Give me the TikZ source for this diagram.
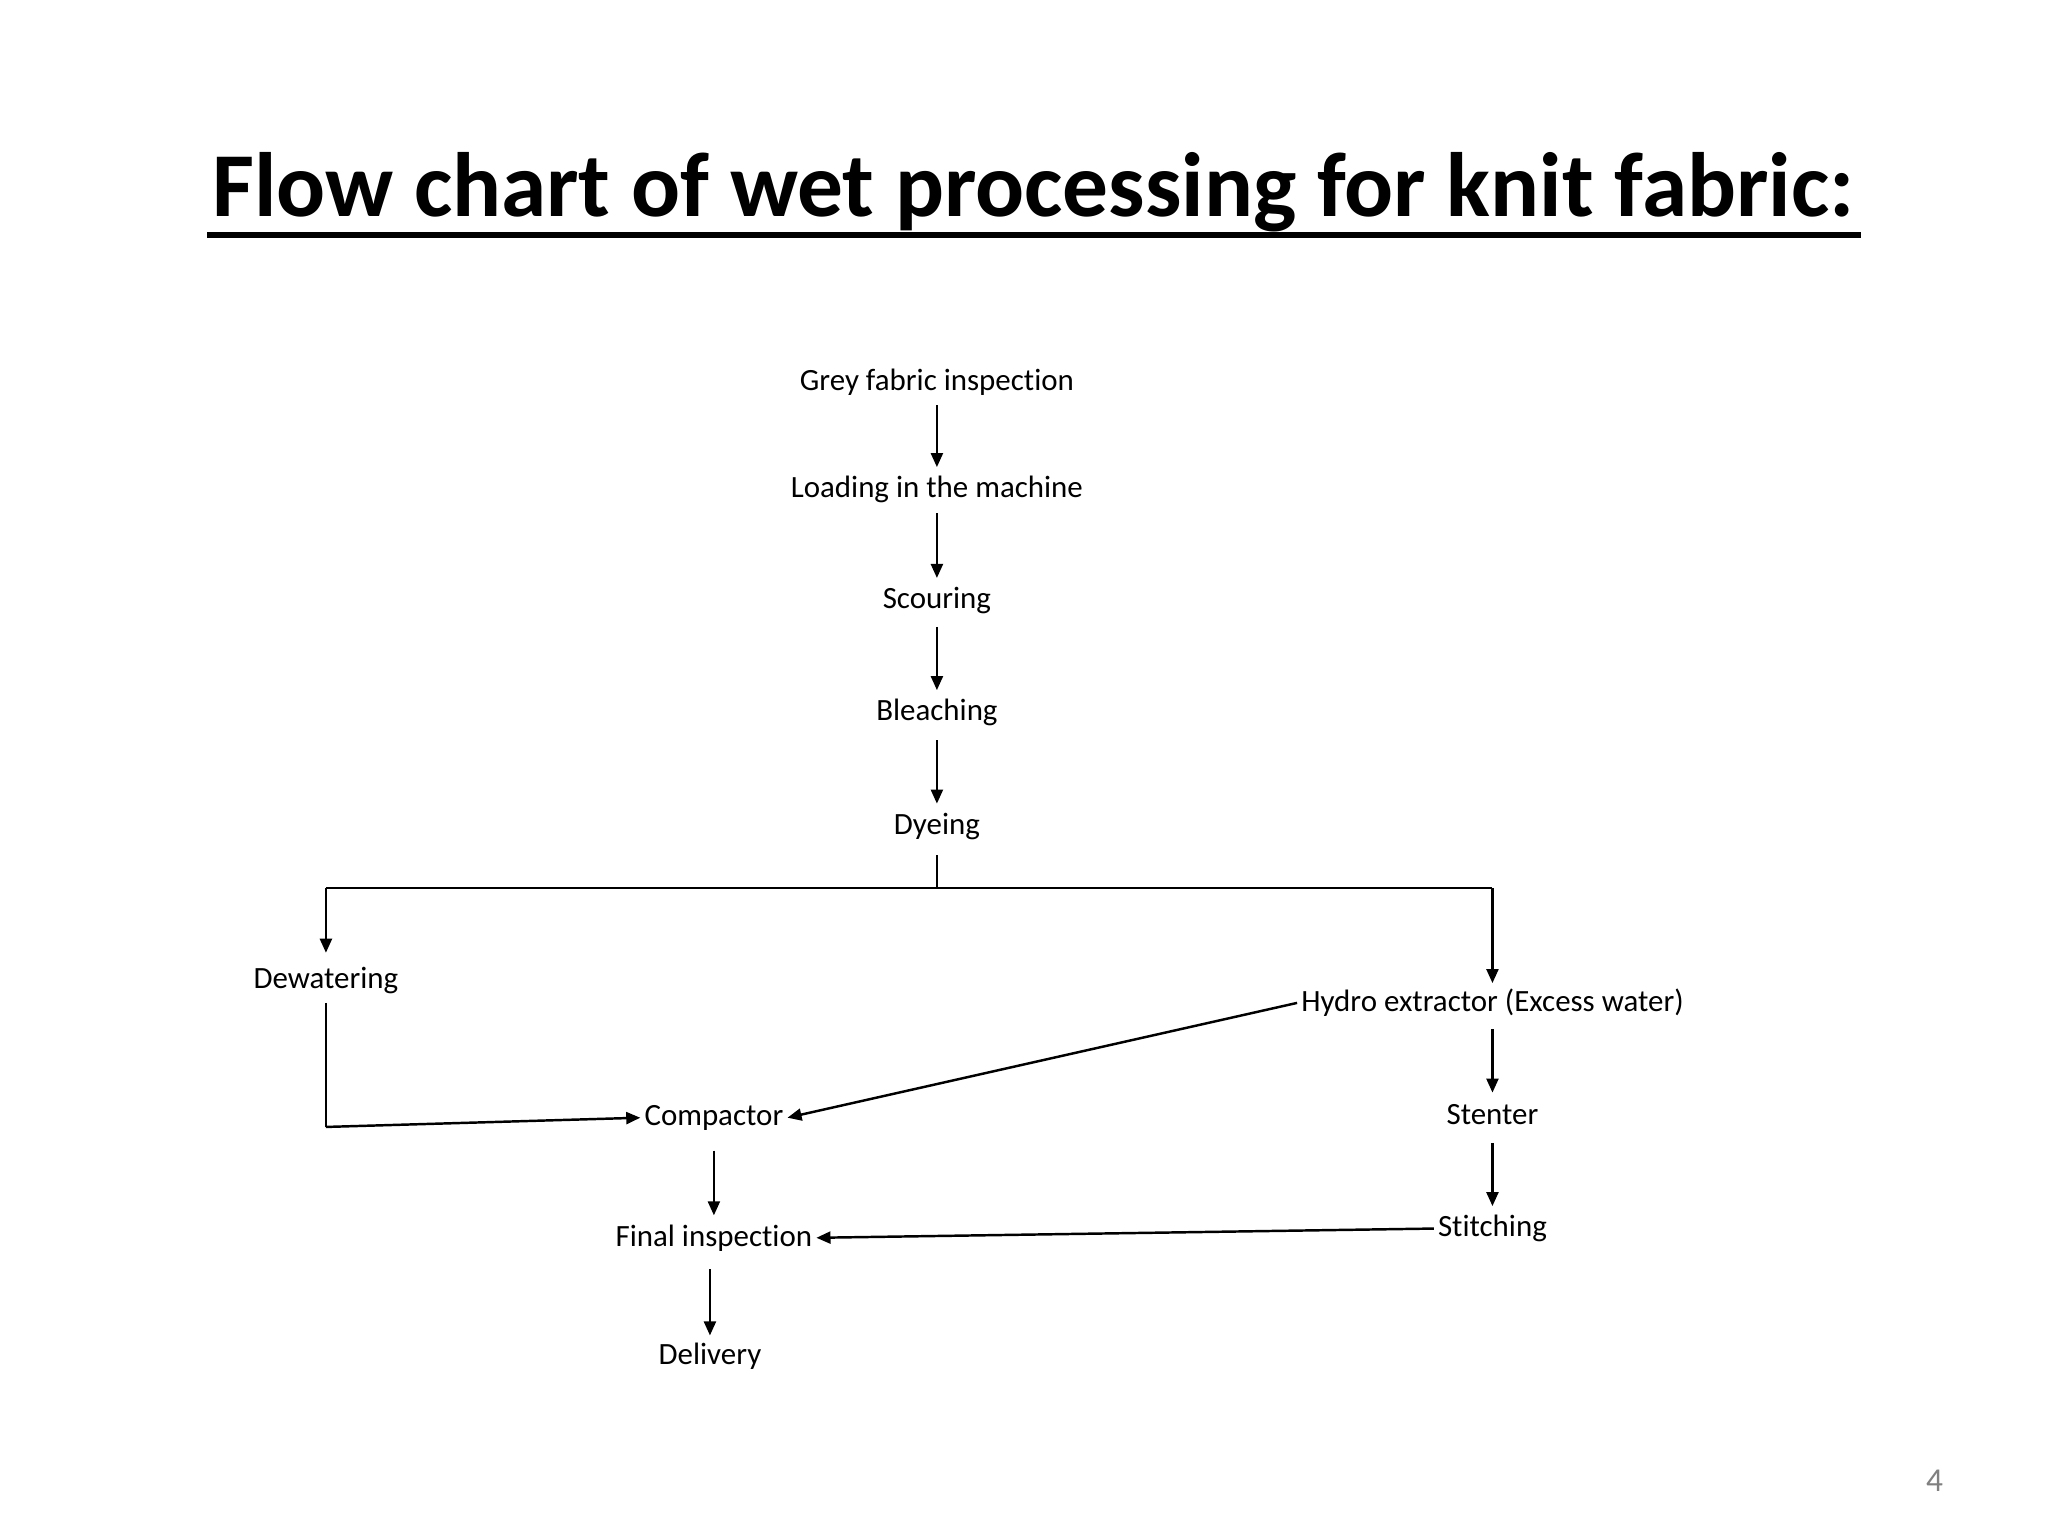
\documentclass[tikz,border=0pt]{standalone}
\usepackage{fontspec}
\setmainfont{Carlito}[Ligatures={NoCommon}]
\usetikzlibrary{arrows.meta}
\begin{document}
\begin{tikzpicture}[x=0.0132cm,y=-0.0132cm,
  lbl/.style={font=\fontsize{8.8}{10}\selectfont,inner sep=1pt},
  ar/.style={-{Triangle[length=4pt,width=3.4pt]},line width=0.7pt},
  ln/.style={line width=0.7pt}]
\useasboundingbox (0,0) rectangle (1552,1164);
\node (title) at (783,146) {\fontsize{26}{30}\selectfont\bfseries Flow chart of wet processing for knit fabric:};
\coordinate (ul1) at (157,178);
\coordinate (ul2) at (1410,178);
\draw[line width=1.5pt] (ul1) -- (ul2);
\node[lbl] (g) at (710,290) {Grey fabric inspection};
\node[lbl] (l) at (710,371) {Loading in the machine};
\node[lbl] (s) at (710,455) {Scouring};
\node[lbl] (b) at (710,540) {Bleaching};
\node[lbl] (d) at (710,626) {Dyeing};
\node[lbl] (dw) at (247,743) {Dewatering};
\node[lbl] (h) at (1131,760) {Hydro extractor (Excess water)};
\node[lbl] (c) at (541,847) {Compactor};
\node[lbl] (st) at (1131,845) {Stenter};
\node[lbl] (sti) at (1131,931) {Stitching};
\node[lbl] (f) at (541,938) {Final inspection};
\node[lbl] (de) at (538,1028) {Delivery};
\node[text=gray] (pg) at (1466,1122) {\fontsize{9.5}{10}\selectfont 4};
\coordinate (j) at (710,673);
\coordinate (jl) at (247,673);
\coordinate (jr) at (1131,673);
\coordinate (dwb) at (247,854);
\draw[ar] (710,307) -- (710,354);
\draw[ar] (710,389) -- (710,438);
\draw[ar] (710,475) -- (710,523);
\draw[ar] (710,561) -- (710,609);
\draw[ln] (710,648) -- (j);
\draw[ln] (jl) -- (jr);
\draw[ar] (jl) -- (247,722);
\draw[ar] (jr) -- (1131,745);
\draw[ln] (247,760) -- (dwb);
\draw[ar] (dwb) -- (c.west);
\draw[ar] (h.west) -- (c.east);
\draw[ar] (541,872) -- (541,921);
\draw[ar] (1131,780) -- (1131,828);
\draw[ar] (1131,866) -- (1131,914);
\draw[ar] (sti.west) -- (f.east);
\draw[ar] (538,962) -- (538,1012);
\end{tikzpicture}
\end{document}
